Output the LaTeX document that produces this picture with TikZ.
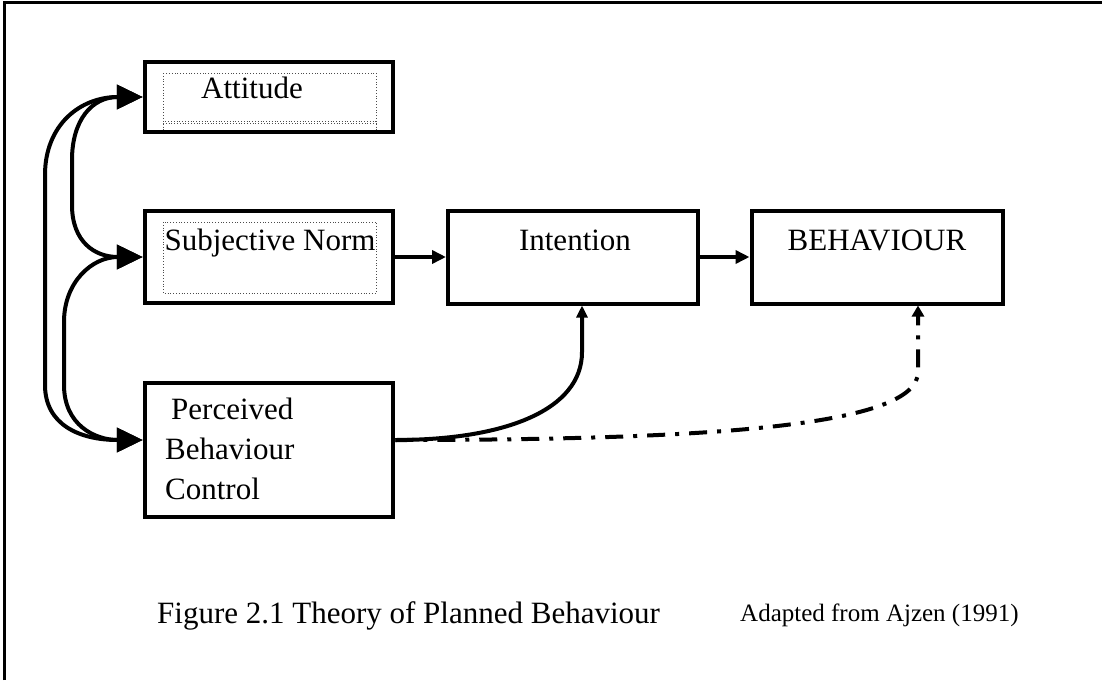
\documentclass[tikz,border=0pt]{standalone}
\usepackage{fontspec}
\setmainfont{Liberation Serif}
\usetikzlibrary{arrows.meta, positioning, calc}

\begin{document}
\begin{tikzpicture}[x=1pt, y=-1pt,
  tbox/.style={rectangle, draw, line width=4.5pt,
    minimum width=248pt, inner sep=0pt},
  ttxt/.style={font=\fontsize{31pt}{40pt}\selectfont, inner sep=0pt},
  bigarr/.style={{Triangle[length=26pt,width=24pt]}-{Triangle[length=26pt,width=24pt]},
    line width=4pt},
  arr/.style={-{Triangle[length=14pt,width=13pt]}, line width=3.5pt},
  dashdot/.style={dash pattern=on 18pt off 10pt on 4pt off 10pt},
  txtbox/.style={draw=black!70, dotted, line width=0.8pt}
]
\useasboundingbox (0,0) rectangle (1102,680);
\draw[line width=3pt] (4,680) -- (4,2) -- (1102,2);

% boxes
\node[tbox, minimum height=70pt]  (att) at (269,97)  {};
\node[tbox, minimum height=92pt]  (sn)  at (269,257) {};
\node[tbox, minimum height=134pt] (pbc) at (269,450) {};
\node[tbox, line width=4pt, minimum width=250pt, minimum height=93pt]
  (int) at (573,257) {};
\node[tbox, line width=4pt, minimum width=251pt, minimum height=93pt]
  (beh) at (877,257) {};

% text frames left over from the word processor
\draw[txtbox] (163,73) rectangle (376,121);
\draw[txtbox] (163,123) -- (376,123);
\draw[txtbox] (163,121) -- (163,131);
\draw[txtbox] (376,121) -- (376,131);
\draw[txtbox] (163,222) rectangle (376,293);

% labels
\node[ttxt, anchor=base] (atttxt) at (252,98)  {Attitude};
\node[ttxt, anchor=base] (sntxt)  at (270,250) {Subjective Norm};
\node[ttxt, anchor=base] (inttxt) at (575,250) {Intention};
\node[ttxt, anchor=base] (behtxt) at (877,250) {BEHAVIOUR};
\node[ttxt, anchor=north west, align=left] (pbctxt) at (165,398)
  {\hspace{6pt}Perceived\\Behaviour\\Control};

% connectors
\draw[arr] (sn.east) -- (int.west);
\draw[arr] (int.east) -- (beh.west);
\draw[arr, line width=4pt, -{Triangle[length=12pt,width=11pt]}]
  ([yshift=10pt]pbc.east) .. controls (505,440) and (582,410) .. (582,352)
  -- ($(int.south)+(9,0)$);
\draw[arr, dashdot, line width=4pt, -{Triangle[length=11pt,width=12pt]}]
  ([yshift=10pt]pbc.east) .. controls (720,440) and (918,425) .. (918,372)
  -- ($(beh.south)+(41,0)$);

\draw[bigarr] (att.west) .. controls (80,97) and (45,125) .. (45,175)
  -- (45,385) .. controls (45,425) and (80,440) .. ([yshift=10pt]pbc.west);
\draw[bigarr] (att.west) .. controls (92,97) and (72,120) .. (72,160)
  -- (72,205) .. controls (72,242) and (95,257) .. (sn.west);
\draw[bigarr] (sn.west) .. controls (92,257) and (64,282) .. (64,322)
  -- (64,385) .. controls (64,425) and (95,440) .. ([yshift=10pt]pbc.west);

% caption
\node[font=\fontsize{31pt}{36pt}\selectfont, anchor=base west, inner sep=0pt]
  (cap) at (157,623) {Figure 2.1 Theory of Planned Behaviour};
\node[font=\fontsize{25pt}{30pt}\selectfont, anchor=base west, inner sep=0pt]
  (src) at (740,621) {Adapted from Ajzen (1991)};
\end{tikzpicture}
\end{document}
